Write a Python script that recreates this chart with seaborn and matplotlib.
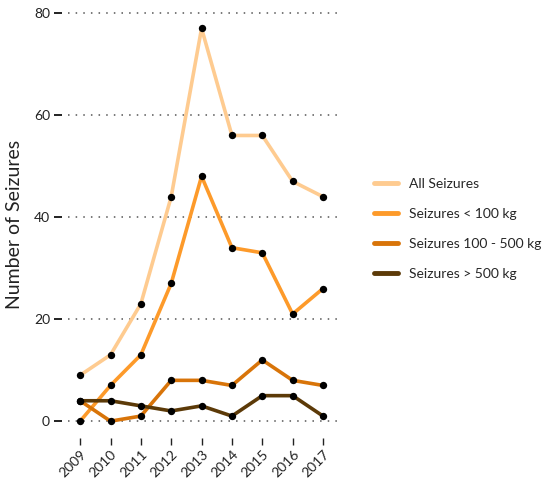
import pandas as pd
import seaborn as sns
import matplotlib.pyplot as plt

# data
years = [2009, 2010, 2011, 2012, 2013, 2014, 2015, 2016, 2017]
all_seizures = [9, 13, 23, 44, 77, 56, 56, 47, 44]
under_100 = [0, 7, 13, 27, 48, 34, 33, 21, 26]
between_100_500 = [4, 0, 1, 8, 8, 7, 12, 8, 7]
over_500 = [4, 4, 3, 2, 3, 1, 5, 5, 1]

series_names = ["All Seizures", "Seizures < 100 kg", "Seizures 100 - 500 kg", "Seizures > 500 kg"]
colors = ["#fecb90", "#fd9a2a", "#d87409", "#5c3a08"]

df = pd.concat([
    pd.DataFrame({"year": years, "count": vals, "series": name})
    for name, vals in zip(series_names, [all_seizures, under_100, between_100_500, over_500])
])

sns.set_style("white")
plt.rcParams["font.family"] = ["Lato", "DejaVu Sans"]

fig = plt.figure(figsize=(5.44, 4.8), dpi=100)
ax = fig.add_axes([68 / 544, 1 - 438 / 480, (340 - 68) / 544, (438 - 11) / 480])

sns.lineplot(data=df, x="year", y="count", hue="series", palette=colors,
             hue_order=series_names, linewidth=2.6, ax=ax, zorder=2)
sns.scatterplot(data=df, x="year", y="count", color="black", s=28,
                linewidth=0, ax=ax, zorder=3, legend=False)

ax.set_xlim(2008.6, 2017.56)
ax.set_ylim(-3.3, 80.4)
ax.set_yticks([0, 20, 40, 60, 80])
ax.set_xticks(years)
ax.set_xticklabels([str(y) for y in years], rotation=45, ha="right",
                   rotation_mode="anchor", fontsize=10)
for t in ax.get_yticklabels():
    t.set_fontsize(11.5)

for v in [0, 20, 40, 60, 80]:
    ax.axhline(v, color="#555555", linestyle=(0, (1, 4)), linewidth=1.1, zorder=1)

for s in ax.spines.values():
    s.set_visible(False)
ax.spines["left"].set_position(("outward", 4))
ax.tick_params(axis="y", left=True, length=6, width=1.4, color="#222222", pad=3,
               labelcolor="#222222")
ax.tick_params(axis="x", bottom=True, length=5, width=1.0, color="#222222", pad=2,
               labelcolor="#222222")

ax.set_xlabel("")
ax.set_ylabel("Number of Seizures", fontsize=14, color="#222222", labelpad=8)

leg = ax.legend(loc="center left", bbox_to_anchor=(1.08, 0.49), frameon=False,
                fontsize=10, handlelength=1.7, labelspacing=1.3, handletextpad=0.8)
for line in leg.get_lines():
    line.set_linewidth(3.5)

fig.savefig("out.png", dpi=100)
